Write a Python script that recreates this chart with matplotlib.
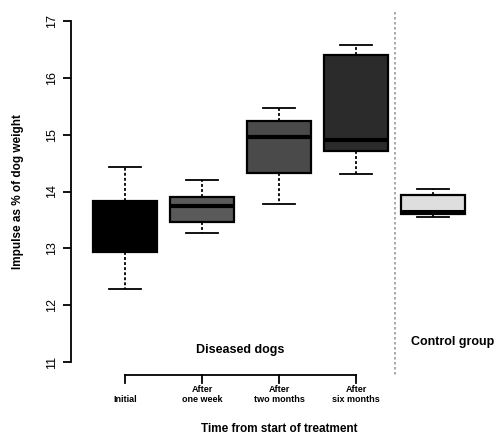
import matplotlib.pyplot as plt
import matplotlib.transforms as mtransforms

# summary stats: whisker low, q1, median, q3, whisker high
groups = ["Initial", "After\none week", "After\ntwo months", "After\nsix months", "Control"]
whislo = [12.28, 13.27, 13.78, 14.31, 13.55]
q1 = [12.93, 13.46, 14.32, 14.71, 13.60]
med = [13.45, 13.74, 14.96, 14.91, 13.66]
q3 = [13.84, 13.90, 15.24, 16.40, 13.94]
whishi = [14.43, 14.20, 15.47, 16.58, 14.04]
colors = ["#000000", "#5a5a5a", "#4a4a4a", "#2b2b2b", "#dedede"]

plt.rcParams['font.family'] = ['Liberation Sans', 'DejaVu Sans']

fig = plt.figure(figsize=(4.96, 4.34), dpi=100)
ax = fig.add_axes([71/496, 1 - 362/434, 1 - 71/496, (362 - 21)/434])

stats = []
for i, g in enumerate(groups):
    stats.append(dict(label=g, whislo=whislo[i], q1=q1[i], med=med[i],
                      q3=q3[i], whishi=whishi[i], fliers=[]))

pos = [1, 2, 3, 4, 5]
bp = ax.bxp(stats, positions=pos, widths=0.82, patch_artist=True,
            showfliers=False,
            boxprops=dict(linewidth=1.6, edgecolor="black"),
            medianprops=dict(color="black", linewidth=3),
            whiskerprops=dict(color="black", linewidth=1.3, linestyle=(0, (1.6, 1.2))),
            capprops=dict(color="black", linewidth=1.3),
            capwidths=0.41)
for patch, c in zip(bp['boxes'], colors):
    patch.set_facecolor(c)
bp['medians'][4].set_linewidth(2.2)

ax.set_xlim(1 - 54/77, 1 + 371/77)
ax.set_ylim(11, 17)
ax.set_yticks([11, 12, 13, 14, 15, 16, 17])
ax.set_yticklabels(["11", "12", "13", "14", "15", "16", "17"], rotation=90,
                   va="center", fontsize=9)
ax.tick_params(axis="y", length=6, width=1.3, pad=3)
ax.set_xticks([])
for s in ["top", "right", "bottom"]:
    ax.spines[s].set_visible(False)
ax.spines["left"].set_linewidth(1.3)
ax.spines["left"].set_bounds(11, 17)

ax.set_ylabel("Impulse as % of dog weight", fontsize=8.5, fontweight="bold", labelpad=16)

# separator between diseased and control
trans = mtransforms.blended_transform_factory(ax.transData, fig.transFigure)
ax.plot([4.5, 4.5], [1 - 12/434, 1 - 375/434], transform=trans, color="#999999",
        linestyle=(0, (1.5, 1.5)), linewidth=1.2, clip_on=False)

# bracket for diseased dog time points
yb = 1 - 375/434
yt = 1 - 383/434
ax.plot([1, 4], [yb, yb], transform=trans, color="black", lw=1.3, clip_on=False)
for p in pos[:4]:
    ax.plot([p, p], [yb, yt], transform=trans, color="black", lw=1.3, clip_on=False)
for p, g in zip(pos[:4], groups[:4]):
    ax.text(p, 1 - 404/434, g, transform=trans, ha="center", va="bottom",
            fontsize=6.5, fontweight="bold", linespacing=1.15)

ax.text(2.5, 1 - 350/434, "Diseased dogs", transform=trans, ha="center",
        va="center", fontsize=9, fontweight="bold")
ax.text(5.25, 1 - 342/434, "Control group", transform=trans, ha="center",
        va="center", fontsize=9, fontweight="bold")
ax.text(3.0, 1 - 429/434, "Time from start of treatment", transform=trans,
        ha="center", va="center", fontsize=8.5, fontweight="bold")

fig.savefig("out.png", dpi=100)
